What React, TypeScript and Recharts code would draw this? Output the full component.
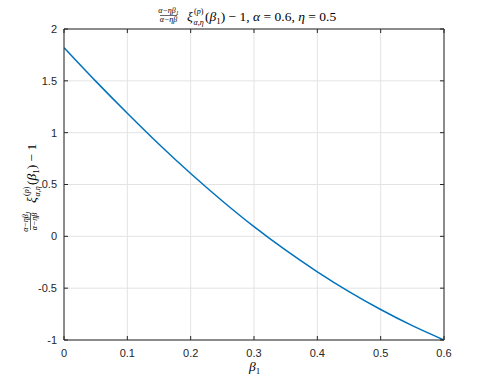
import React from 'react';
import { LineChart, Line, XAxis, YAxis, CartesianGrid } from 'recharts';

// beta_1 sample positions and the plotted expression values
const beta1 = [0, 0.05, 0.1, 0.15, 0.2, 0.25, 0.3, 0.35, 0.4, 0.45, 0.5, 0.55, 0.6];
const values = [1.82, 1.497, 1.187, 0.888, 0.606, 0.341, 0.093, -0.134, -0.342, -0.533, -0.706, -0.862, -1.0];
const xTicks = [0, 0.1, 0.2, 0.3, 0.4, 0.5, 0.6];
const yTicks = [-1, -0.5, 0, 0.5, 1, 1.5, 2];

const data = beta1.map((b, i) => ({ b, v: values[i] }));

const AXIS = '#262626';
const FONT = '"Liberation Sans", Arial, Helvetica, sans-serif';
const SERIF = '"Liberation Serif", "DejaVu Serif", serif';

const fmt = (v: number) => String(v);

const BottomTick = (props: any) => {
  const { x, y, payload } = props;
  return (
    <g>
      <line x1={x} y1={y} x2={x} y2={y - 4} stroke={AXIS} strokeWidth={1} />
      <text x={x} y={y + 9} dy="0.71em" textAnchor="middle" fontSize={11} fill={AXIS} fontFamily={FONT}>
        {fmt(payload.value)}
      </text>
    </g>
  );
};

const TopTick = (props: any) => {
  const { x, y } = props;
  return <line x1={x} y1={y} x2={x} y2={y + 4} stroke={AXIS} strokeWidth={1} />;
};

const LeftTick = (props: any) => {
  const { x, y, payload } = props;
  return (
    <g>
      <line x1={x} y1={y} x2={x + 4} y2={y} stroke={AXIS} strokeWidth={1} />
      <text x={x - 7} y={y} dy="0.355em" textAnchor="end" fontSize={11} fill={AXIS} fontFamily={FONT}>
        {fmt(payload.value)}
      </text>
    </g>
  );
};

const RightTick = (props: any) => {
  const { x, y } = props;
  return <line x1={x} y1={y} x2={x - 4} y2={y} stroke={AXIS} strokeWidth={1} />;
};

// LaTeX-like expression: (α−ηβ1)/(α−ηβ) ξ^(p)_{α,η}(β1) − 1  (local coords, baseline y=21)
const Expr = ({ tail }: { tail?: React.ReactNode }) => (
  <g fontFamily={SERIF} fill="#000">
    <text x={168.5} y={13} fontSize={8} textAnchor="middle" fontStyle="italic">
      α−ηβ<tspan fontSize={6} dy={1.5}>1</tspan>
    </text>
    <line x1={160} y1={15.5} x2={177} y2={15.5} stroke="#000" strokeWidth={0.6} />
    <text x={168.5} y={22} fontSize={8} textAnchor="middle" fontStyle="italic">
      α−ηβ
    </text>
    <text x={187} y={21} fontSize={13.5} fontStyle="italic">ξ</text>
    <text x={194} y={13.5} fontSize={8}>(<tspan fontStyle="italic">p</tspan>)</text>
    <text x={193.5} y={24.5} fontSize={8} fontStyle="italic">α,η</text>
    <text x={205} y={21} fontSize={13.5}>
      (<tspan fontStyle="italic">β</tspan><tspan fontSize={9} dy={3}>1</tspan><tspan dy={-3}>) − 1</tspan>
      {tail}
    </text>
  </g>
);

const Overlay = () => (
  <svg width={491} height={382} style={{ position: 'absolute', left: 0, top: 0, pointerEvents: 'none' }}>
    <Expr
      tail={
        <tspan>
          , <tspan fontStyle="italic">α</tspan> = 0.6, <tspan fontStyle="italic">η</tspan> = 0.5
        </tspan>
      }
    />
    <g transform="translate(15,390) rotate(-90)">
      <Expr />
    </g>
    <text x={249} y={371} fontSize={13.5} fontFamily={SERIF} fill="#000">
      <tspan fontStyle="italic">β</tspan><tspan fontSize={9} dy={3}>1</tspan>
    </text>
  </svg>
);

export default function App() {
  return (
    <div style={{ position: 'absolute', left: 0, top: 0, width: 491, height: 382, background: '#fff' }}>
      <LineChart width={491} height={382} data={data} margin={{ top: 28, right: 46, bottom: 0, left: 0 }}>
        <CartesianGrid xAxisId="bottom" yAxisId="left" stroke="#e3e3e3" strokeWidth={1} />
        <XAxis
          xAxisId="bottom"
          dataKey="b"
          type="number"
          domain={[0, 0.6]}
          ticks={xTicks}
          interval={0}
          height={42}
          tickSize={0}
          tickMargin={0}
          tick={<BottomTick />}
          tickLine={false}
          axisLine={{ stroke: AXIS, strokeWidth: 1 }}
          allowDataOverflow
        />
        <XAxis
          xAxisId="top"
          orientation="top"
          dataKey="b"
          type="number"
          domain={[0, 0.6]}
          ticks={xTicks}
          interval={0}
          height={1}
          tickSize={0}
          tickMargin={0}
          tick={<TopTick />}
          tickLine={false}
          axisLine={{ stroke: AXIS, strokeWidth: 1 }}
          allowDataOverflow
        />
        <YAxis
          yAxisId="left"
          type="number"
          domain={[-1, 2]}
          ticks={yTicks}
          interval={0}
          width={64}
          tickSize={0}
          tickMargin={0}
          tick={<LeftTick />}
          tickLine={false}
          axisLine={{ stroke: AXIS, strokeWidth: 1 }}
          allowDataOverflow
        />
        <YAxis
          yAxisId="right"
          orientation="right"
          type="number"
          domain={[-1, 2]}
          ticks={yTicks}
          interval={0}
          width={1}
          tickSize={0}
          tickMargin={0}
          tick={<RightTick />}
          tickLine={false}
          axisLine={{ stroke: AXIS, strokeWidth: 1 }}
          allowDataOverflow
        />
        <Line
          xAxisId="top"
          yAxisId="right"
          type="monotone"
          dataKey="v"
          stroke="none"
          dot={false}
          activeDot={false}
          legendType="none"
          isAnimationActive={false}
        />
        <Line
          xAxisId="bottom"
          yAxisId="left"
          type="monotone"
          dataKey="v"
          stroke="#0072BD"
          strokeWidth={1.5}
          dot={false}
          isAnimationActive={false}
        />
      </LineChart>
      <Overlay />
    </div>
  );
}
